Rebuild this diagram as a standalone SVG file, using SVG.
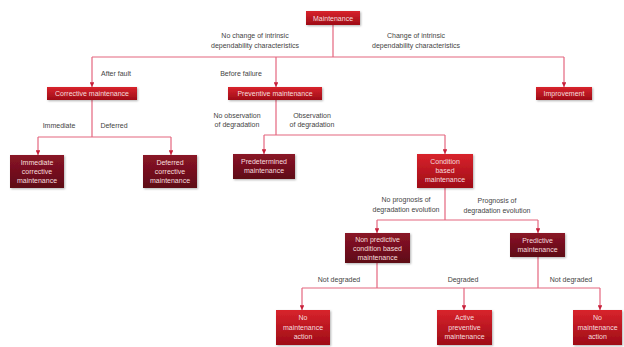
<svg xmlns="http://www.w3.org/2000/svg" width="624" height="347" viewBox="0 0 624 347">
<defs>
<linearGradient id="gBright" x1="0" y1="0" x2="0" y2="1">
<stop offset="0" stop-color="#d8232c"/>
<stop offset="1" stop-color="#9e0c17"/>
</linearGradient>
<linearGradient id="gDark" x1="0" y1="0" x2="0" y2="1">
<stop offset="0" stop-color="#8a1426"/>
<stop offset="1" stop-color="#5e0a17"/>
</linearGradient>
<filter id="sh" x="-20%" y="-20%" width="140%" height="140%">
<feDropShadow dx="1" dy="1" stdDeviation="1" flood-color="#000" flood-opacity="0.3"/>
</filter>
<marker id="arr" viewBox="0 0 6 6" refX="6" refY="3" markerWidth="4" markerHeight="4" orient="auto">
<path d="M0,0 L6,3 L0,6 z" fill="#c8203a"/>
</marker>
</defs>
<style>
.b{fill:url(#gBright);filter:url(#sh)}
.d{fill:url(#gDark);filter:url(#sh)}
.t{font-family:"Liberation Sans",Arial,sans-serif;font-size:7px;fill:#f6dede;text-anchor:middle}
.l{font-family:"Liberation Sans",Arial,sans-serif;font-size:7px;fill:#444;text-anchor:middle}
.c{fill:none;stroke:#e4667f;stroke-width:1.2}
.a{marker-end:url(#arr)}
</style>
<rect width="624" height="347" fill="#fff"/>
<g id="connectors">
<path class="c" d="M333,25 V57 M92,57 H564"/>
<path class="c a" d="M92,57 V87"/>
<path class="c a" d="M276,57 V87"/>
<path class="c a" d="M564,57 V87"/>
<path class="c" d="M92,100 V137 M38,137 H171"/>
<path class="c a" d="M38,137 V155"/>
<path class="c a" d="M171,137 V155"/>
<path class="c" d="M276,100 V135 M264,135 H445"/>
<path class="c a" d="M264,135 V154"/>
<path class="c a" d="M445,135 V154"/>
<path class="c" d="M445,188 V220 M377,220 H538"/>
<path class="c a" d="M377,220 V233"/>
<path class="c a" d="M538,220 V233"/>
<path class="c" d="M377,263 V288 M538,257 V288 M302,288 H600"/>
<path class="c a" d="M302,288 V310"/>
<path class="c a" d="M464,288 V310"/>
<path class="c a" d="M600,288 V310"/>
</g>
<g id="labels">
<text class="l" x="255" y="37.5">No change of intrinsic</text>
<text class="l" x="255" y="47.5">dependability characteristics</text>
<text class="l" x="416" y="37.5">Change of intrinsic</text>
<text class="l" x="416" y="47.5">dependability characteristics</text>
<text class="l" x="116" y="75.5">After fault</text>
<text class="l" x="241" y="75.5">Before failure</text>
<text class="l" x="59" y="128">Immediate</text>
<text class="l" x="114" y="128">Deferred</text>
<text class="l" x="237" y="117.5">No observation</text>
<text class="l" x="237" y="126.5">of degradation</text>
<text class="l" x="312" y="117.5">Observation</text>
<text class="l" x="312" y="126.5">of degradation</text>
<text class="l" x="406" y="202">No prognosis of</text>
<text class="l" x="406" y="211.5">degradation evolution</text>
<text class="l" x="497" y="203">Prognosis of</text>
<text class="l" x="497" y="212.5">degradation evolution</text>
<text class="l" x="339" y="281.5">Not degraded</text>
<text class="l" x="463" y="281.5">Degraded</text>
<text class="l" x="571" y="281.5">Not degraded</text>
</g>
<g id="maintenance"><rect class="b" x="306" y="11" width="54" height="14"/><text class="t" x="333" y="20.5">Maintenance</text></g>
<g id="corrective"><rect class="b" x="47" y="87" width="90" height="13"/><text class="t" x="92" y="96">Corrective  maintenance</text></g>
<g id="preventive"><rect class="b" x="228" y="87" width="94" height="13"/><text class="t" x="275" y="96">Preventive  maintenance</text></g>
<g id="improvement"><rect class="b" x="536" y="87" width="56" height="13"/><text class="t" x="564" y="96">Improvement</text></g>
<g id="immediate"><rect class="d" x="10" y="155" width="54" height="33"/><text class="t" x="37" y="164.5">Immediate</text><text class="t" x="37" y="173.5">corrective</text><text class="t" x="37" y="182.5">maintenance</text></g>
<g id="deferred"><rect class="d" x="143" y="155" width="54" height="33"/><text class="t" x="170" y="164.5">Deferred</text><text class="t" x="170" y="173.5">corrective</text><text class="t" x="170" y="182.5">maintenance</text></g>
<g id="predetermined"><rect class="d" x="233" y="154" width="62" height="25"/><text class="t" x="264" y="164">Predetermined</text><text class="t" x="264" y="173">maintenance</text></g>
<g id="condition"><rect class="b" x="417" y="154" width="56" height="34"/><text class="t" x="445" y="164">Condition</text><text class="t" x="445" y="173">based</text><text class="t" x="445" y="182">maintenance</text></g>
<g id="nonpredictive"><rect class="d" x="345" y="233" width="65" height="30"/><text class="t" x="377.5" y="242">Non predictive</text><text class="t" x="377.5" y="251">condition based</text><text class="t" x="377.5" y="260">maintenance</text></g>
<g id="predictive"><rect class="d" x="510" y="233" width="55" height="24"/><text class="t" x="537.5" y="243">Predictive</text><text class="t" x="537.5" y="252">maintenance</text></g>
<g id="nomaint1"><rect class="b" x="276" y="310" width="54" height="35"/><text class="t" x="303" y="320">No</text><text class="t" x="303" y="329.5">maintenance</text><text class="t" x="303" y="339">action</text></g>
<g id="active"><rect class="b" x="437" y="310" width="55" height="35"/><text class="t" x="464.5" y="320">Active</text><text class="t" x="464.5" y="329.5">preventive</text><text class="t" x="464.5" y="339">maintenance</text></g>
<g id="nomaint2"><rect class="b" x="573" y="310" width="49" height="35"/><text class="t" x="597.5" y="320">No</text><text class="t" x="597.5" y="329.5">maintenance</text><text class="t" x="597.5" y="339">action</text></g>
</svg>
